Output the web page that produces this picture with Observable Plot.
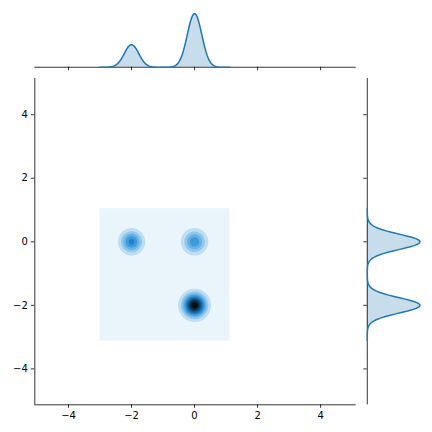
<!DOCTYPE html>
<html>
<head>
<meta charset="utf-8">
<script src="https://cdn.jsdelivr.net/npm/d3@7"></script>
<script src="https://cdn.jsdelivr.net/npm/@observablehq/plot@0.6"></script>
<style>
  html, body { margin: 0; padding: 0; background: white; }
  #wrap { position: relative; width: 432px; height: 432px; }
  #wrap > svg { position: absolute; left: 0; top: 0; }
</style>
</head>
<body>
<div id="wrap"></div>
<script>
// ---- data ----
const xTicks = [-4, -2, 0, 2, 4];
const yTicks = [-4, -2, 0, 2, 4];
const xDomain = [-5.07, 5.13];
const yDomain = [-5.13, 5.14];

// three density blobs (x, y centres)
const blobX = [-2, 0, 0];
const blobY = [0, 0, -2];
// 2-D kde: peak height (fraction of top contour level) and spread
const blobPeak = [0.54, 0.48, 0.97];
const blobSpread = [0.235, 0.245, 0.245];
// 1-D marginal kde: relative weight of each blob, bandwidths
const margWeight = [1, 0.69, 1.69];
const margBwX = 0.23;
const margBwY = 0.24;
// kde evaluation grid extent
const gridX = [-3.02, 1.11];
const gridY = [-3.11, 1.06];
// contour levels (fraction of top level)
const levels = [0, 0.1, 0.2, 0.3, 0.4, 0.5, 0.6, 0.7, 0.8, 0.9];
const lineColor = "#1f77b4";

// ---- derived ----
// seaborn joint kde colormap: white -> base hue -> black
const baseHsl = d3.hsl(lineColor);
const kdeCmap = t => d3.hsl(baseHsl.h, baseHsl.s, 1 - t).formatHex();
const density2d = (x, y) => d3.sum(blobX, (cx, i) => {
  const dx = x - cx, dy = y - blobY[i], s = blobSpread[i];
  return blobPeak[i] * Math.exp(-(dx * dx + dy * dy) / (2 * s * s));
});
const gauss = (v, m, s) => Math.exp(-((v - m) ** 2) / (2 * s * s)) / (s * Math.sqrt(2 * Math.PI));
const wSum = d3.sum(margWeight);
const nPts = 100;
const sampX = d3.range(nPts).map(i => gridX[0] + (gridX[1] - gridX[0]) * i / (nPts - 1));
const sampY = d3.range(nPts).map(i => gridY[0] + (gridY[1] - gridY[0]) * i / (nPts - 1));
const margX = sampX.map(v => ({v, d: d3.sum(blobX, (c, i) => margWeight[i] * gauss(v, c, margBwX)) / wSum}));
const margY = sampY.map(v => ({v, d: d3.sum(blobY, (c, i) => margWeight[i] * gauss(v, c, margBwY)) / wSum}));
const maxMX = d3.max(margX, d => d.d);
const maxMY = d3.max(margY, d => d.d);

const figW = 432, figH = 432;
const pLeft = 34.3, pRight = 355.7, pTop = 78, pBottom = 404.3;
const cellH = (pBottom - pTop) / 5.8;       // gridspec cell (ratio 5, space .2)
const cellW = (pRight - pLeft) / 5.8;
const plotStyle = {background: "transparent", fontFamily: "DejaVu Sans", fontSize: "10px", color: "black", overflow: "visible"};
const tickLen = 3.5, lw = 0.8;
const fmt = d => d < 0 ? "\u2212" + Math.abs(d) : String(d);

// main joint plot
const mainPlot = Plot.plot({
  width: figW, height: figH,
  marginLeft: pLeft, marginRight: figW - pRight, marginTop: pTop, marginBottom: figH - pBottom,
  x: {domain: xDomain},
  y: {domain: yDomain},
  color: {type: "linear", domain: [-0.05, 0.95], interpolate: kdeCmap, clamp: true},
  style: plotStyle,
  marks: [
    Plot.contour({
      value: density2d, fill: "value",
      x1: gridX[0], x2: gridX[1], y1: gridY[0], y2: gridY[1],
      thresholds: levels, pixelSize: 1.3
    }),
    Plot.ruleX([xDomain[0]], {stroke: "black", strokeWidth: lw}),
    Plot.ruleY([yDomain[0]], {stroke: "black", strokeWidth: lw}),
    Plot.axisX(xTicks, {tickSize: tickLen, tickPadding: 3.5, tickFormat: fmt, label: null, strokeWidth: lw}),
    Plot.axisY(yTicks, {tickSize: tickLen, tickPadding: 3.5, tickFormat: fmt, label: null, strokeWidth: lw})
  ]
});

// top marginal
const topPlot = Plot.plot({
  width: figW, height: figH,
  marginLeft: pLeft, marginRight: figW - pRight,
  marginTop: pTop - 0.2 * cellH - cellH, marginBottom: figH - (pTop - 0.2 * cellH),
  x: {domain: xDomain},
  y: {domain: [0, maxMX * 1.05], axis: null},
  style: plotStyle,
  marks: [
    Plot.areaY(margX, {x: "v", y: "d", fill: lineColor, fillOpacity: 0.25}),
    Plot.ruleY([0], {stroke: "black", strokeWidth: lw}),
    Plot.lineY(margX, {x: "v", y: "d", stroke: lineColor, strokeWidth: 1.5}),
    Plot.axisX(xTicks, {tickSize: tickLen, tickFormat: () => "", label: null, strokeWidth: lw})
  ]
});

// right marginal
const rLeft = pRight + 0.2 * cellW;
const rightPlot = Plot.plot({
  width: figW, height: figH,
  marginLeft: rLeft, marginRight: figW - (rLeft + cellW),
  marginTop: pTop, marginBottom: figH - pBottom,
  x: {domain: [0, maxMY * 1.05], axis: null},
  y: {domain: yDomain},
  style: plotStyle,
  marks: [
    Plot.areaX(margY, {y: "v", x: "d", fill: lineColor, fillOpacity: 0.25}),
    Plot.ruleX([0], {stroke: "black", strokeWidth: lw}),
    Plot.lineX(margY, {y: "v", x: "d", stroke: lineColor, strokeWidth: 1.5}),
    Plot.axisY(yTicks, {anchor: "left", tickSize: tickLen, tickFormat: () => "", label: null, strokeWidth: lw})
  ]
});

document.getElementById("wrap").append(mainPlot, topPlot, rightPlot);
</script>
</body>
</html>
